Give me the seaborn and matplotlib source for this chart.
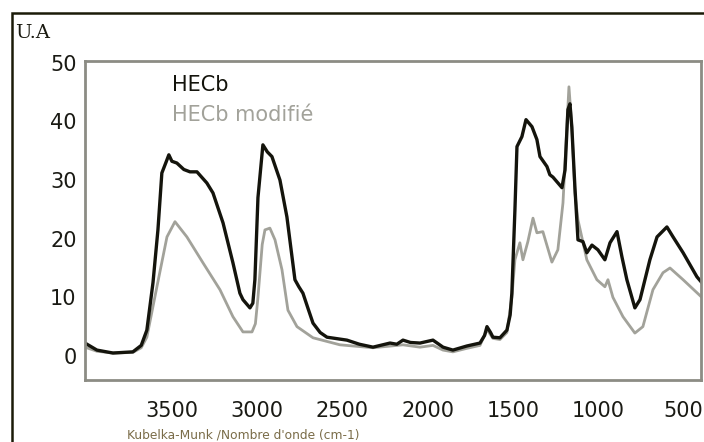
import numpy as np
import pandas as pd
import matplotlib
matplotlib.use('Agg')
import matplotlib.pyplot as plt
import seaborn as sns
from matplotlib.patches import Rectangle

sns.set_style('white')
plt.rcParams['font.family'] = ['DejaVu Sans']

# spectre HECb (nombre d'onde cm-1, U.A)
wn_hecb = [4010, 3940, 3846, 3729, 3680, 3647, 3611, 3582, 3559, 3535, 3518, 3500,
           3471, 3430, 3394, 3353, 3295, 3259, 3200, 3142, 3101, 3083, 3042, 3025,
           3013, 2995, 2966, 2940, 2913, 2866, 2825, 2800, 2778, 2755, 2731, 2700,
           2672, 2630, 2590, 2473, 2400, 2320, 2220, 2180, 2144, 2100, 2044, 1968,
           1909, 1851, 1769, 1692, 1665, 1651, 1630, 1616, 1575, 1534, 1515, 1505,
           1487, 1475, 1446, 1422, 1387, 1358, 1340, 1299, 1282, 1264, 1211, 1193,
           1176, 1164, 1153, 1135, 1117, 1088, 1065, 1035, 1000, 959, 929, 888,
           859, 830, 783, 753, 695, 653, 595, 559, 500, 419, 390]
ua_hecb = [2.2, 1.0, 0.5, 0.7, 1.8, 4.4, 12.5, 21.5, 31.2, 33.0, 34.3, 33.2,
           32.9, 31.8, 31.4, 31.4, 29.5, 27.8, 22.7, 15.9, 10.7, 9.6, 8.2, 9.0,
           13.0, 27.0, 36.0, 34.8, 34.0, 30.0, 23.7, 18.0, 13.0, 11.8, 10.7, 8.0,
           5.6, 4.0, 3.2, 2.7, 2.0, 1.5, 2.2, 2.0, 2.7, 2.3, 2.2, 2.7,
           1.5, 1.0, 1.7, 2.2, 3.5, 5.0, 4.0, 3.2, 3.1, 4.4, 7.0, 10.7,
           24.9, 35.7, 37.4, 40.3, 39.1, 36.9, 34.0, 32.3, 30.9, 30.5, 28.7, 31.7,
           42.0, 43.0, 39.0, 28.8, 19.8, 19.5, 17.6, 18.9, 18.1, 16.4, 19.3, 21.2,
           16.9, 13.0, 8.2, 9.6, 16.4, 20.3, 22.0, 20.3, 17.6, 13.5, 12.5]

# spectre HECb modifié
wn_mod = [4010, 3940, 3846, 3729, 3680, 3647, 3588, 3529, 3482, 3412, 3318, 3218,
          3142, 3083, 3030, 3010, 2995, 2970, 2954, 2925, 2895, 2854, 2819, 2766,
          2672, 2514, 2320, 2144, 2044, 1968, 1909, 1851, 1769, 1692, 1651, 1616,
          1575, 1534, 1505, 1487, 1458, 1440, 1411, 1381, 1358, 1323, 1270, 1235,
          1205, 1182, 1170, 1153, 1135, 1117, 1065, 1006, 959, 941, 912, 853,
          783, 736, 677, 618, 577, 500, 390]
ua_mod = [1.5, 0.8, 0.5, 0.6, 1.4, 3.2, 11.8, 20.3, 22.9, 20.3, 15.9, 11.3,
          6.7, 4.1, 4.1, 5.5, 10.0, 19.0, 21.5, 21.8, 19.8, 14.7, 7.8, 5.0,
          3.1, 1.9, 1.4, 1.9, 1.5, 1.8, 1.0, 0.7, 1.3, 1.8, 4.5, 3.0,
          2.8, 4.0, 10.0, 16.4, 19.3, 16.4, 19.5, 23.5, 21.0, 21.2, 16.0, 18.1,
          26.1, 39.1, 45.9, 39.1, 27.8, 23.2, 16.4, 13.0, 11.8, 13.0, 10.0, 6.7,
          3.9, 5.0, 11.3, 14.2, 15.0, 13.0, 10.0]

xticks = [3500, 3000, 2500, 2000, 1500, 1000, 500]
yticks = [0, 10, 20, 30, 40, 50]

df = pd.concat([
    pd.DataFrame({'nombre_onde': wn_hecb, 'ua': ua_hecb, 'serie': 'HECb'}),
    pd.DataFrame({'nombre_onde': wn_mod, 'ua': ua_mod, 'serie': 'HECb modifié'}),
])

black = '#14140c'
gray = '#a2a29a'
axis_gray = '#8c8c84'

fig = plt.figure(figsize=(7.04, 4.42), dpi=100)
ax = fig.add_axes([85 / 704, 62 / 442, 616 / 704, 319 / 442])

# courbe grise en dessous, noire au dessus
sns.lineplot(data=df[df.serie == 'HECb modifié'], x='nombre_onde', y='ua',
             color=gray, lw=2.0, ax=ax, legend=False)
sns.lineplot(data=df[df.serie == 'HECb'], x='nombre_onde', y='ua',
             color=black, lw=2.4, ax=ax, legend=False)

ax.set_xlim(4010, 395)
ax.set_ylim(-4.1, 50.3)
ax.set_xticks(xticks)
ax.set_yticks(yticks)
ax.set_xlabel('')
ax.set_ylabel('')
ax.tick_params(axis='both', labelsize=15, colors=axis_gray, labelcolor='#1a1a14',
               length=6, width=1.5, direction='out')
ax.tick_params(axis='x', pad=9)
ax.tick_params(axis='y', pad=0)
for sp in ax.spines.values():
    sp.set_color(axis_gray)
    sp.set_linewidth(2)

# étiquettes de légende écrites dans le graphique
ax.text(0.141, 0.925, 'HECb', transform=ax.transAxes, fontsize=15, color=black,
        va='center', ha='left')
ax.text(0.141, 0.83, 'HECb modifié', transform=ax.transAxes, fontsize=15,
        color=gray, va='center', ha='left')

fig.text(127 / 704, 1 - 435 / 442, "Kubelka-Munk /Nombre d'onde (cm-1)",
         fontsize=8.8, color='#7a6c48', va='center', ha='left')
fig.text(15 / 704, 1 - 33 / 442, 'U.A', family='DejaVu Serif', fontsize=14,
         color='#1a1a10', va='center', ha='left')

# cadre extérieur
fig.patches.append(Rectangle((12 / 704, -0.1), 1.2, 1.1 - 13 / 442,
                             transform=fig.transFigure, fill=False,
                             ec='#1a1a08', lw=1.8, clip_on=False))

plt.savefig('out.png', dpi=100)
